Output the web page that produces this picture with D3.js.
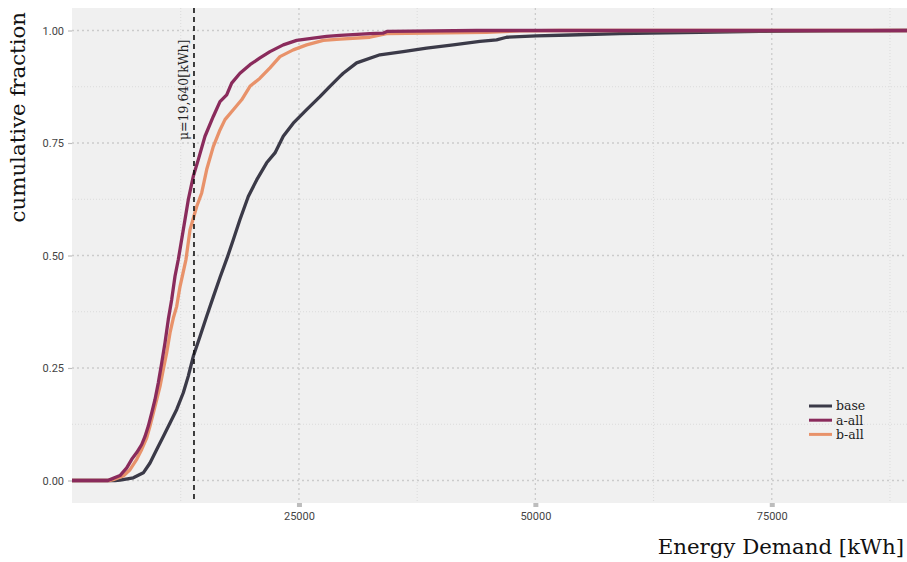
<!DOCTYPE html>
<html><head><meta charset="utf-8">
<script src="https://cdn.jsdelivr.net/npm/d3@7"></script>
<style>body{margin:0;background:#fff} svg{display:block}</style>
</head><body>
<svg id="c" width="907" height="562"></svg>
<script>
// ---- data ----
const seriesNames = ["base", "a-all", "b-all"];
const seriesColors = ["#3b3a48", "#8a2b5c", "#e8926a"];

const baseKwh = [1000,5550,6078,7484,8541,9250,9958,10655,11364,12072,12770,13298,13827,14535,15243,15941,16649,17442,18055,18764,19641,20529,21586,22464,23341,24398,25814,27220,28277,29335,29683,31100,33563,36026,38499,41311,44133,45899,46956,50128,53648,58934,62106,67391,73734,81134,89300];
const baseFrac = [0,0,0.001,0.006,0.017,0.039,0.069,0.098,0.128,0.158,0.195,0.232,0.276,0.320,0.365,0.408,0.451,0.497,0.535,0.580,0.631,0.668,0.706,0.728,0.765,0.794,0.824,0.853,0.876,0.898,0.905,0.928,0.946,0.953,0.961,0.968,0.976,0.979,0.985,0.988,0.990,0.993,0.994,0.996,0.998,0.999,1.0];

const aKwh = [1000,4810,5021,6078,6787,7315,7844,8372,8721,9070,9429,9778,10127,10486,10835,11184,11543,11892,12241,12770,13298,13827,14355,15064,15941,16649,17358,17886,18764,19821,20878,21935,23341,24757,26512,27929,29335,32506,33880,34302,43784,89300];
const aFrac = [0,0,0.002,0.011,0.028,0.047,0.062,0.080,0.098,0.121,0.150,0.180,0.217,0.261,0.306,0.358,0.402,0.454,0.491,0.557,0.624,0.676,0.713,0.765,0.809,0.842,0.857,0.883,0.905,0.924,0.939,0.953,0.968,0.978,0.983,0.987,0.989,0.993,0.994,0.998,1.0,1.0];

const bKwh = [1000,5021,5370,6427,7135,7844,8372,8901,9250,9598,9958,10307,10655,11015,11364,11713,12072,12421,12738,13051,13478,14186,14715,15243,15941,16649,17178,18055,18943,19821,20878,21935,22992,24398,25814,27569,29335,32506,34271,44842,48363,52592,89300];
const bFrac = [0,0,0.002,0.010,0.024,0.047,0.069,0.095,0.121,0.150,0.180,0.209,0.247,0.284,0.328,0.361,0.387,0.431,0.461,0.491,0.557,0.609,0.639,0.691,0.742,0.779,0.802,0.824,0.846,0.876,0.894,0.917,0.942,0.957,0.968,0.978,0.981,0.985,0.993,0.996,0.999,1.0,1.0];

const xTicks = [25000, 50000, 75000];
const xMinorTicks = [12500, 37500, 62500, 87500];
const yTicks = [0, 0.25, 0.5, 0.75, 1];
const yTickLabels = ["0.00", "0.25", "0.50", "0.75", "1.00"];
const yMinorTicks = [0.125, 0.375, 0.625, 0.875];
const meanLineKwh = 13900;
const meanLabel = "μ=19,640[kWh]";
const xTitle = "Energy Demand [kWh]";
const yTitle = "cumulative fraction";

// ---- layout ----
const W = 907, H = 562;
const m = {left: 72, top: 8, right: 0, bottom: 59};
const pw = W - m.left - m.right, ph = H - m.top - m.bottom;

const series = [
  {name: seriesNames[0], color: seriesColors[0], pts: baseKwh.map((x,i)=>[x, baseFrac[i]])},
  {name: seriesNames[1], color: seriesColors[1], pts: aKwh.map((x,i)=>[x, aFrac[i]])},
  {name: seriesNames[2], color: seriesColors[2], pts: bKwh.map((x,i)=>[x, bFrac[i]])}
];

const allX = [].concat(baseKwh, aKwh, bKwh);
const x = d3.scaleLinear().domain(d3.extent(allX)).range([0, pw]);
const y = d3.scaleLinear().domain([-0.05, 1.05]).range([ph, 0]);

const svg = d3.select("#c");
const g = svg.append("g").attr("transform", `translate(${m.left},${m.top})`);

g.append("rect").attr("width", pw).attr("height", ph).attr("fill", "#f0f0f0");

// minor grid
g.selectAll(".ymin").data(yMinorTicks).join("line")
  .attr("x1", 0).attr("x2", pw).attr("y1", d=>y(d)).attr("y2", d=>y(d))
  .attr("stroke", "#d6d6d6").attr("stroke-width", 0.8).attr("stroke-dasharray", "1,2");
g.selectAll(".xmin").data(xMinorTicks).join("line")
  .attr("y1", 0).attr("y2", ph).attr("x1", d=>x(d)).attr("x2", d=>x(d))
  .attr("stroke", "#d6d6d6").attr("stroke-width", 0.8).attr("stroke-dasharray", "1,2");
// major grid
g.selectAll(".ymaj").data(yTicks).join("line")
  .attr("x1", 0).attr("x2", pw).attr("y1", d=>y(d)).attr("y2", d=>y(d))
  .attr("stroke", "#cbcbcb").attr("stroke-width", 1.3).attr("stroke-dasharray", "2,3");
g.selectAll(".xmaj").data(xTicks).join("line")
  .attr("y1", 0).attr("y2", ph).attr("x1", d=>x(d)).attr("x2", d=>x(d))
  .attr("stroke", "#cbcbcb").attr("stroke-width", 1.3).attr("stroke-dasharray", "2,3");

// axes
const xAxis = g.append("g").attr("transform", `translate(0,${ph})`)
  .call(d3.axisBottom(x).tickValues(xTicks).tickFormat(d3.format("d")).tickSize(4).tickPadding(5));
xAxis.select(".domain").remove();
xAxis.selectAll(".tick line").attr("stroke", "#bdbdbd").attr("stroke-width", 5);
xAxis.selectAll(".tick text").attr("font-family", "Roboto, sans-serif").attr("font-size", 11).attr("fill", "#444");

const yAxis = g.append("g")
  .call(d3.axisLeft(y).tickValues(yTicks).tickFormat((d,i)=>yTickLabels[i]).tickSize(4).tickPadding(4));
yAxis.select(".domain").remove();
yAxis.selectAll(".tick line").attr("stroke", "#bdbdbd").attr("stroke-width", 1.2);
yAxis.selectAll(".tick text").attr("font-family", "Roboto, sans-serif").attr("font-size", 11).attr("fill", "#444");

// lines
const line = d3.line().x(d=>x(d[0])).y(d=>y(d[1]));
const drawOrder = [0, 2, 1];
g.selectAll(".series").data(drawOrder.map(i=>series[i])).join("path")
  .attr("d", d=>line(d.pts)).attr("fill", "none")
  .attr("stroke", d=>d.color).attr("stroke-width", 3.3).attr("stroke-linejoin", "round");

// mean line
g.append("line").attr("x1", x(meanLineKwh)).attr("x2", x(meanLineKwh)).attr("y1", 0).attr("y2", ph)
  .attr("stroke", "#111").attr("stroke-width", 1.6).attr("stroke-dasharray", "5,4");
g.append("text")
  .attr("transform", `translate(${x(meanLineKwh) - 6},${y(0.98)}) rotate(-90)`)
  .attr("text-anchor", "end")
  .attr("font-family", "DejaVu Serif, serif").attr("font-size", 12.5).attr("fill", "#222")
  .text(meanLabel);

// legend
const lg = g.append("g").attr("transform", `translate(${809 - m.left},${406 - m.top})`);
series.forEach((s, i) => {
  const yy = i * 14.2;
  lg.append("line").attr("x1", 0).attr("x2", 23).attr("y1", yy).attr("y2", yy)
    .attr("stroke", s.color).attr("stroke-width", 3);
  lg.append("text").attr("x", 27).attr("y", yy).attr("dy", "0.35em")
    .attr("font-family", "DejaVu Serif, serif").attr("font-size", 12.5).attr("fill", "#222").text(s.name);
});

// titles
svg.append("text").attr("x", 904).attr("y", 554).attr("text-anchor", "end")
  .attr("font-family", "DejaVu Serif, serif").attr("font-size", 21.3).attr("fill", "#111").text(xTitle);
svg.append("text").attr("transform", "translate(25,12) rotate(-90)").attr("text-anchor", "end")
  .attr("font-family", "DejaVu Serif, serif").attr("font-size", 21.3).attr("fill", "#111").text(yTitle);
</script>
</body></html>
